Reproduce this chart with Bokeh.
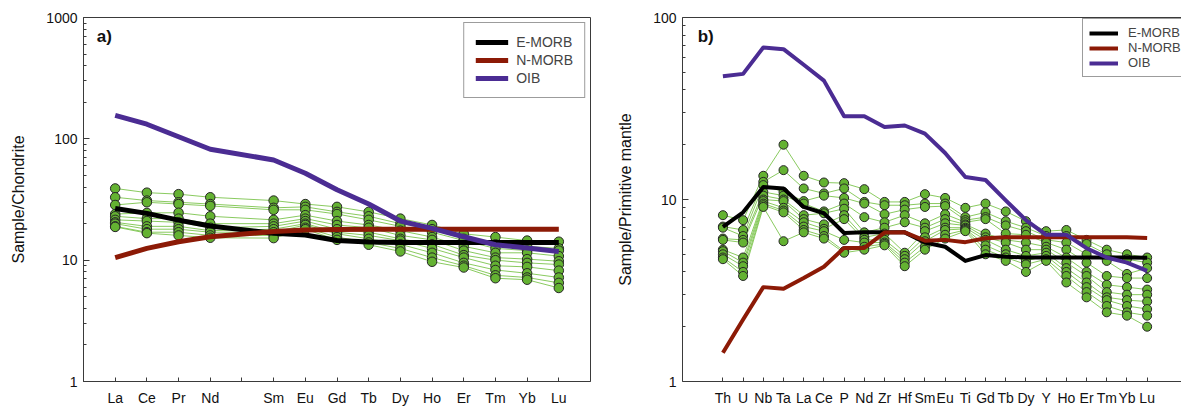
from bokeh.plotting import figure
from bokeh.layouts import row
from bokeh.models import (FixedTicker, NumeralTickFormatter, Legend, LegendItem,
                          Label, LinearAxis, Range1d)
from bokeh.embed import file_html
from bokeh.resources import INLINE

FONT = "Liberation Sans"

# ---------------- panel a) chondrite-normalised REE ----------------
ree_ticks = ["La", "Ce", "Pr", "Nd", "Pm", "Sm", "Eu", "Gd", "Tb", "Dy",
             "Ho", "Er", "Tm", "Yb", "Lu"]
ree_elements = ["La", "Ce", "Pr", "Nd", "Sm", "Eu", "Gd", "Tb", "Dy",
                "Ho", "Er", "Tm", "Yb", "Lu"]

emorb_ree = [26.7, 24.3, 21.4, 19.1, 16.7, 16.1, 14.5, 14.1, 14, 14, 14, 14, 14, 14]
nmorb_ree = [10.5, 12.5, 14.2, 15.6, 17.2, 17.7, 17.9, 18, 18, 18, 18, 18, 18, 18]
oib_ree = [156, 132, 104, 82, 67, 52, 38, 29, 21, 18.3, 15.6, 13.4, 12.6, 11.8]

# sample values, one list per element (10 samples each)
ree_La = [39, 33, 28.5, 24, 23, 21.5, 20.5, 20, 19, 18.8]
ree_Ce = [36, 31, 30, 24.5, 22, 21, 19, 18, 17, 16.7]
ree_Pr = [35, 30, 29, 24.6, 22, 20.5, 19, 18, 17, 16]
ree_Nd = [33, 29, 28, 23, 20, 18.5, 17.5, 17, 16, 15.3]
ree_Sm = [31, 27, 26, 21.5, 20, 19, 18, 17, 16, 15.2]
ree_Eu = [29, 27.5, 26, 23.5, 22, 21, 20, 19.5, 18.5, 18]
ree_Gd = [27.5, 25, 24, 21, 19.5, 18, 17, 16.5, 15.5, 14.7]
ree_Tb = [25, 23, 21.5, 19.5, 18.5, 17, 16, 15, 14, 13.4]
ree_Dy = [22, 20, 19, 17.5, 16, 15, 14.5, 13.5, 12.5, 11.8]
ree_Ho = [19.5, 18, 17, 15.5, 14.7, 13.5, 12.5, 11.5, 10.5, 9.7]
ree_Er = [16.5, 15, 14.5, 13, 12, 11, 10.5, 9.5, 9, 8.7]
ree_Tm = [15.5, 13.5, 12.5, 11.5, 10.5, 10, 9, 8.3, 7.5, 7.1]
ree_Yb = [14.5, 13, 12, 11.5, 10.2, 9.5, 8.8, 7.8, 7.2, 6.9]
ree_Lu = [14.2, 12.5, 12, 10.8, 9.8, 9.2, 8.2, 7.2, 6.5, 5.9]
ree_columns = [ree_La, ree_Ce, ree_Pr, ree_Nd, ree_Sm, ree_Eu, ree_Gd, ree_Tb,
               ree_Dy, ree_Ho, ree_Er, ree_Tm, ree_Yb, ree_Lu]

# ---------------- panel b) primitive-mantle-normalised ----------------
pm_elements = ["Th", "U", "Nb", "Ta", "La", "Ce", "P", "Nd", "Zr", "Hf", "Sm",
               "Eu", "Ti", "Gd", "Tb", "Dy", "Y", "Ho", "Er", "Tm", "Yb", "Lu"]

emorb_pm = [7.07, 8.5, 11.7, 11.5, 9.1, 8.4, 6.55, 6.6, 6.6, 6.6, 5.8, 5.5,
            4.6, 4.95, 4.85, 4.8, 4.8, 4.8, 4.8, 4.8, 4.8, 4.78]
nmorb_pm = [1.44, 2.19, 3.3, 3.23, 3.7, 4.27, 5.42, 5.42, 6.58, 6.6, 5.94, 6.0,
            5.83, 6.13, 6.2, 6.2, 6.2, 6.2, 6.2, 6.2, 6.2, 6.15]
oib_pm = [47.5, 49, 68.5, 67, 55, 45, 28.7, 28.7, 25, 25.5, 23, 18, 13.3,
          12.8, 9.9, 7.7, 6.4, 6.4, 5.4, 4.8, 4.5, 4.05]

pm_Th = [8.2, 7.1, 7.0, 6.1, 6.0, 5.3, 5.2, 5.0, 4.8, 4.7]
pm_U = [7.7, 6.8, 6.3, 6.0, 5.8, 4.8, 4.5, 4.3, 4.0, 3.8]
pm_Nb = [13.5, 12.5, 12, 11, 10.5, 10, 9.8, 9.5, 9.3, 9.1]
pm_Ta = [20, 14.5, 11, 10.5, 10, 9.8, 9, 8.7, 8.5, 5.9]
pm_La = [13.5, 11.5, 9.8, 9.5, 8.2, 7.8, 7.5, 7.1, 6.8, 6.6]
pm_Ce = [12.4, 10.8, 10.5, 8.6, 8.4, 7.3, 6.9, 6.7, 6.3, 6.1]
pm_P = [12.3, 11.5, 10.2, 9.5, 8.9, 8.2, 7.8, 6.0, 5.2, 5.1]
pm_Nd = [11.4, 9.7, 9.5, 8.0, 6.6, 6.2, 6.0, 5.8, 5.5, 5.3]
pm_Zr = [9.7, 9.3, 8.3, 7.5, 7.0, 6.5, 6.0, 5.8, 5.7, 5.6]
pm_Hf = [9.7, 9.3, 8.8, 8.2, 7.5, 5.1, 4.9, 4.7, 4.5, 4.3]
pm_Sm = [10.7, 9.5, 9.1, 7.4, 7.0, 6.7, 6.2, 5.9, 5.5, 5.3]
pm_Eu = [10.2, 9.5, 9.2, 8.3, 7.8, 7.4, 7.0, 6.8, 6.4, 6.1]
pm_Ti = [9.0, 8.0, 7.7, 7.5, 7.3, 7.2, 7.0, 6.9, 6.8, 6.7]
pm_Gd = [9.5, 8.5, 8.0, 7.8, 6.5, 6.2, 6.0, 5.6, 5.3, 5.0]
pm_Tb = [8.6, 7.6, 7.2, 6.5, 6.0, 5.8, 5.3, 5.0, 4.8, 4.6]
pm_Dy = [7.6, 7.0, 6.7, 6.4, 5.8, 5.3, 4.9, 4.6, 4.4, 4.0]
pm_Y = [6.7, 6.3, 6.0, 5.8, 5.5, 5.3, 5.1, 4.9, 4.7, 4.6]
pm_Ho = [6.8, 6.3, 5.8, 5.3, 4.8, 4.5, 4.2, 4.0, 3.8, 3.5]
pm_Er = [6.0, 5.7, 5.0, 4.5, 4.0, 3.8, 3.5, 3.3, 3.1, 2.9]
pm_Tm = [5.3, 5.0, 4.6, 3.8, 3.4, 3.1, 2.9, 2.8, 2.6, 2.4]
pm_Yb = [5.0, 4.7, 3.9, 3.7, 3.3, 3.0, 2.8, 2.6, 2.4, 2.3]
pm_Lu = [4.8, 4.5, 4.2, 3.7, 3.2, 3.0, 2.75, 2.5, 2.3, 2.0]
pm_columns = [pm_Th, pm_U, pm_Nb, pm_Ta, pm_La, pm_Ce, pm_P, pm_Nd, pm_Zr, pm_Hf,
              pm_Sm, pm_Eu, pm_Ti, pm_Gd, pm_Tb, pm_Dy, pm_Y, pm_Ho, pm_Er,
              pm_Tm, pm_Yb, pm_Lu]

# ---------------- styles ----------------
C_EMORB = "#000000"
C_NMORB = "#8c1a06"
C_OIB = "#4b2c93"
C_SLINE = "#7cc44e"
C_SFILL = "#64b232"
C_AX = "#3a3a3a"


def style(p, ticks, labels, y_major, y_minor, ylabel):
    p.grid.visible = False
    p.background_fill_color = "white"
    p.border_fill_color = "white"
    xa = p.xaxis[0]
    xa.ticker = FixedTicker(ticks=ticks)
    xa.major_label_overrides = {t: l for t, l in zip(ticks, labels)}
    xa.major_tick_in = 4
    xa.major_tick_out = 0
    xa.minor_tick_line_color = None
    xa.major_label_standoff = 8
    xa.major_label_text_font = FONT
    xa.major_label_text_font_size = "14px"
    xa.major_label_text_color = "#111111"
    xa.axis_line_color = C_AX
    xa.major_tick_line_color = C_AX
    ya = p.yaxis[0]
    ya.ticker = FixedTicker(ticks=y_major, minor_ticks=y_minor)
    ya.formatter = NumeralTickFormatter(format="0")
    ya.major_tick_in = 6
    ya.major_tick_out = 0
    ya.minor_tick_in = 3
    ya.minor_tick_out = 0
    ya.major_label_standoff = 6
    ya.major_label_text_font = FONT
    ya.major_label_text_font_size = "14px"
    ya.major_label_text_color = "#111111"
    ya.axis_line_color = C_AX
    ya.major_tick_line_color = C_AX
    ya.minor_tick_line_color = C_AX
    ya.axis_label = ylabel
    ya.axis_label_text_font = FONT
    ya.axis_label_text_font_size = "16px"
    ya.axis_label_text_font_style = "normal"
    ya.axis_label_text_color = "#111111"
    ya.axis_label_standoff = 16


def draw(p, xs, columns, emorb, nmorb, oib, ref_width, msize):
    samples = list(zip(*columns))
    for s in samples:
        p.line(xs, list(s), line_color=C_SLINE, line_width=1, line_alpha=0.9)
    for s in samples:
        p.scatter(xs, list(s), marker="circle", size=msize, fill_color=C_SFILL,
                  line_color="#262626", line_width=1)
    r_e = p.line(xs, emorb, line_color=C_EMORB, line_width=ref_width, line_join="round")
    r_n = p.line(xs, nmorb, line_color=C_NMORB, line_width=ref_width, line_join="round")
    r_o = p.line(xs, oib, line_color=C_OIB, line_width=ref_width, line_join="round")
    return r_e, r_n, r_o


def minor_for(decades):
    out = []
    for d in decades[:-1]:
        out += [d * k for k in range(2, 10)]
    return out


# ---- panel a
pa = figure(width=600, height=408, y_axis_type="log",
            x_range=Range1d(0, 16), y_range=Range1d(1, 1000),
            output_backend="svg", toolbar_location=None,
            min_border_left=83, min_border_right=10, min_border_top=17,
            min_border_bottom=26)
pa.outline_line_color = C_AX
pa.outline_line_width = 1
ree_x = [ree_ticks.index(e) + 1 for e in ree_elements]
ree_tick_pos = list(range(1, len(ree_ticks) + 1))
ree_tick_lbl = ["" if t == "Pm" else t for t in ree_ticks]
style(pa, ree_tick_pos, ree_tick_lbl, [1, 10, 100, 1000], minor_for([1, 10, 100, 1000]),
      "Sample/Chondrite")
ra = draw(pa, ree_x, ree_columns, emorb_ree, nmorb_ree, oib_ree, 5, 9.5)
leg_a = Legend(items=[LegendItem(label="E-MORB", renderers=[ra[0]]),
                      LegendItem(label="N-MORB", renderers=[ra[1]]),
                      LegendItem(label="OIB", renderers=[ra[2]])],
               location="top_right", margin=5, padding=11, spacing=2,
               glyph_width=33, glyph_height=16, label_height=16, label_standoff=8,
               label_text_font=FONT, label_text_font_size="14px",
               border_line_color=C_AX, border_line_width=1,
               background_fill_color="white", background_fill_alpha=1)
pa.add_layout(leg_a)
pa.add_layout(Label(x=0.42, y=700, text="a)", text_font=FONT, text_font_size="17px",
                    text_font_style="bold", text_baseline="middle", text_color="#111111"))

# ---- panel b
pb = figure(width=581, height=408, y_axis_type="log",
            x_range=Range1d(-1, 23.7), y_range=Range1d(1, 100),
            output_backend="svg", toolbar_location=None,
            min_border_left=82, min_border_right=0, min_border_top=17,
            min_border_bottom=26)
pb.outline_line_color = None
pm_x = list(range(1, len(pm_elements) + 1))
style(pb, pm_x, pm_elements, [1, 10, 100], minor_for([1, 10, 100]),
      "Sample/Primitive mantle")
top_axis = LinearAxis(ticker=FixedTicker(ticks=[]), axis_line_color=C_AX,
                      major_tick_line_color=None, minor_tick_line_color=None,
                      major_label_text_font_size="0px")
pb.add_layout(top_axis, "above")
rb = draw(pb, pm_x, pm_columns, emorb_pm, nmorb_pm, oib_pm, 4, 9)
leg_b = Legend(items=[LegendItem(label="E-MORB", renderers=[rb[0]]),
                      LegendItem(label="N-MORB", renderers=[rb[1]]),
                      LegendItem(label="OIB", renderers=[rb[2]])],
               location=(400, 304), margin=0, padding=6, spacing=0,
               glyph_width=29, glyph_height=14, label_height=14, label_standoff=10,
               label_text_font=FONT, label_text_font_size="13px",
               border_line_color=C_AX, border_line_width=1,
               background_fill_color="white", background_fill_alpha=1)
pb.add_layout(leg_b)
pb.add_layout(Label(x=-0.25, y=79, text="b)", text_font=FONT, text_font_size="17px",
                    text_font_style="bold", text_baseline="middle", text_color="#111111"))

layout = row(pa, pb, spacing=0)
open("out.html", "w").write(file_html(layout, INLINE))
